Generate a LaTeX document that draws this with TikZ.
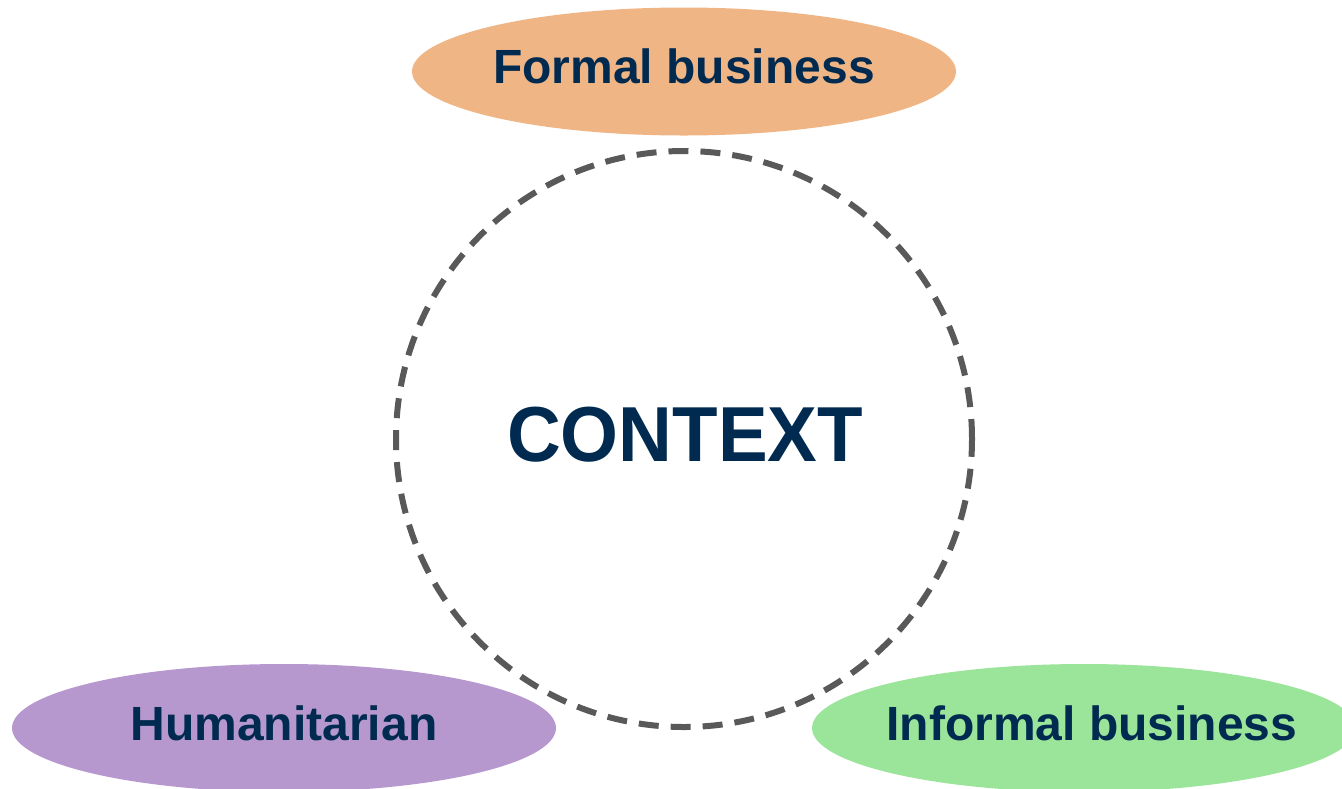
\documentclass[tikz,border=0pt]{standalone}
\usepackage{fontspec}
\setmainfont{Liberation Sans}
\usetikzlibrary{shapes.geometric}
\definecolor{navy}{HTML}{002A4F}
\definecolor{forange}{HTML}{F0B585}
\definecolor{hpurple}{HTML}{B698CF}
\definecolor{igreen}{HTML}{9BE59B}
\definecolor{dgray}{HTML}{595959}
\tikzset{
  blob/.style={ellipse, minimum width=544pt, minimum height=128pt, inner sep=0pt},
  blobtext/.style={font=\fontsize{48}{50}\selectfont\bfseries, text=navy, inner sep=0pt},
  ring/.style={draw=dgray, line width=6pt, dash pattern=on 20pt off 12pt}
}
\begin{document}
\begin{tikzpicture}[x=1pt,y=-1pt]
\useasboundingbox (0,0) rectangle (1342,788);
\begin{scope}
\clip (0,0) rectangle (1342,788);
\node[blob, fill=forange] (formal) at (684,71.5) {};
\node[blob, fill=hpurple] (human) at (284,728) {};
\node[blob, fill=igreen] (informal) at (1084,728) {};
\node[blobtext] (formalt) at ([yshift=5pt]formal.center) {Formal business};
\node[blobtext] (humant) at ([yshift=5pt]human.center) {Humanitarian};
\node[blobtext] (informalt) at ([xshift=8pt,yshift=5pt]informal.center) {Informal business};
\node[circle, ring, minimum size=576pt, inner sep=0pt] (ctx) at (684,439) {};
\node[font=\fontsize{78}{80}\selectfont\bfseries, text=navy, inner sep=0pt] (ctxt) at (685,435) {\scalebox{0.955}[1]{CONTEXT}};
\end{scope}
\end{tikzpicture}
\end{document}
